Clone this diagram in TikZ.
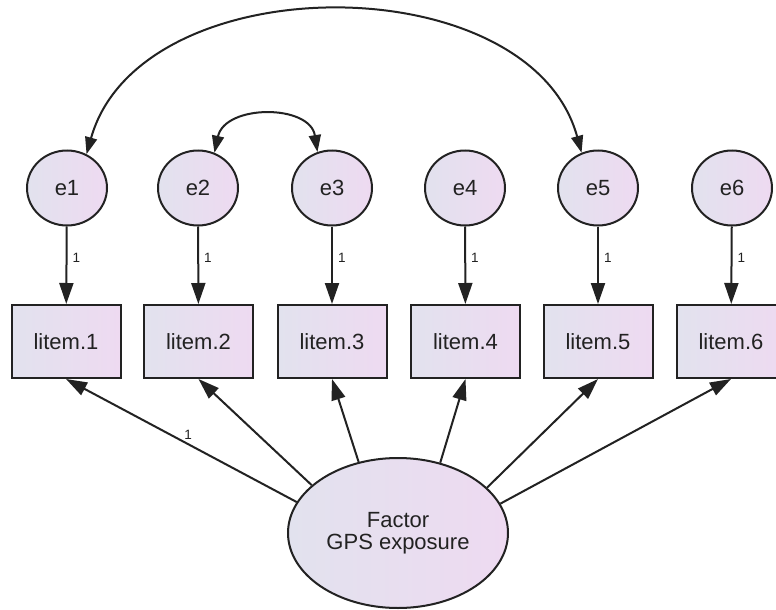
\documentclass[tikz,border=0pt]{standalone}
\usepackage{fontspec}
\setmainfont{Liberation Sans}
\usetikzlibrary{arrows.meta,shapes.geometric}
\definecolor{fillL}{HTML}{E2E2EE}
\definecolor{fillR}{HTML}{EEDAF1}
\definecolor{ink}{HTML}{222222}
\tikzset{
  base/.style={draw=ink, line width=2pt, left color=fillL, right color=fillR,
    text=ink, font=\fontsize{22}{22}\selectfont, inner sep=0pt},
  errnode/.style={base, ellipse, minimum width=80pt, minimum height=75pt},
  itembox/.style={base, rectangle, minimum width=109pt, minimum height=73pt},
  factnode/.style={base, ellipse, minimum width=220pt, minimum height=150pt, align=center},
  arr/.style={draw=ink, line width=2pt, -{Triangle[length=21pt,width=14pt]}},
  carr/.style={draw=ink, line width=2pt, {Triangle[length=17pt,width=12pt]}-{Triangle[length=17pt,width=12pt]}},
  lbl/.style={text=ink, font=\fontsize{13.5}{13.5}\selectfont, inner sep=1pt}
}
\begin{document}
\begin{tikzpicture}[x=1pt,y=-1pt]
\useasboundingbox (0,0) rectangle (776,610);
\clip (0,0) rectangle (776,610);
\fill[white] (0,0) rectangle (776,610);
% error terms
\node[errnode] (e1) at (67,188) {e1};
\node[errnode] (e2) at (198,188) {e2};
\node[errnode] (e3) at (332,188) {e3};
\node[errnode] (e4) at (465,188) {e4};
\node[errnode] (e5) at (598,188) {e5};
\node[errnode] (e6) at (732,188) {e6};
% items
\node[itembox] (b1) at (66,341.5) {litem.1};
\node[itembox] (b2) at (198.5,341.5) {litem.2};
\node[itembox] (b3) at (332,341.5) {litem.3};
\node[itembox] (b4) at (465.5,341.5) {litem.4};
\node[itembox] (b5) at (598,341.5) {litem.5};
\node[itembox] (b6) at (731,341.5) {litem.6};
% factor
\node[factnode] (f) at (398,533) {Factor\\GPS exposure};
% error -> item
\foreach \i in {1,...,6}{
  \draw[arr] (e\i) -- node[lbl, pos=0.4, right=4pt]{1} (b\i);
}
% factor -> items
\draw[arr] (f.163.5) -- node[lbl, pos=0.47, above=3pt]{1} (b1.south);
\draw[arr] (f.151.6) -- (b2.south);
\draw[arr] (f.119.4) -- (b3.south);
\draw[arr] (f.59.4) -- (b4.south);
\draw[arr] (f.27) -- (b5.south);
\draw[arr] (f.16) -- (b6.south);
% covariances
\draw[carr] (e1.60) .. controls (140,-36) and (530,-36) .. (e5.115);
\draw[carr] (e2.65) .. controls (225,104) and (310,104) .. (e3.112);
\end{tikzpicture}
\end{document}
